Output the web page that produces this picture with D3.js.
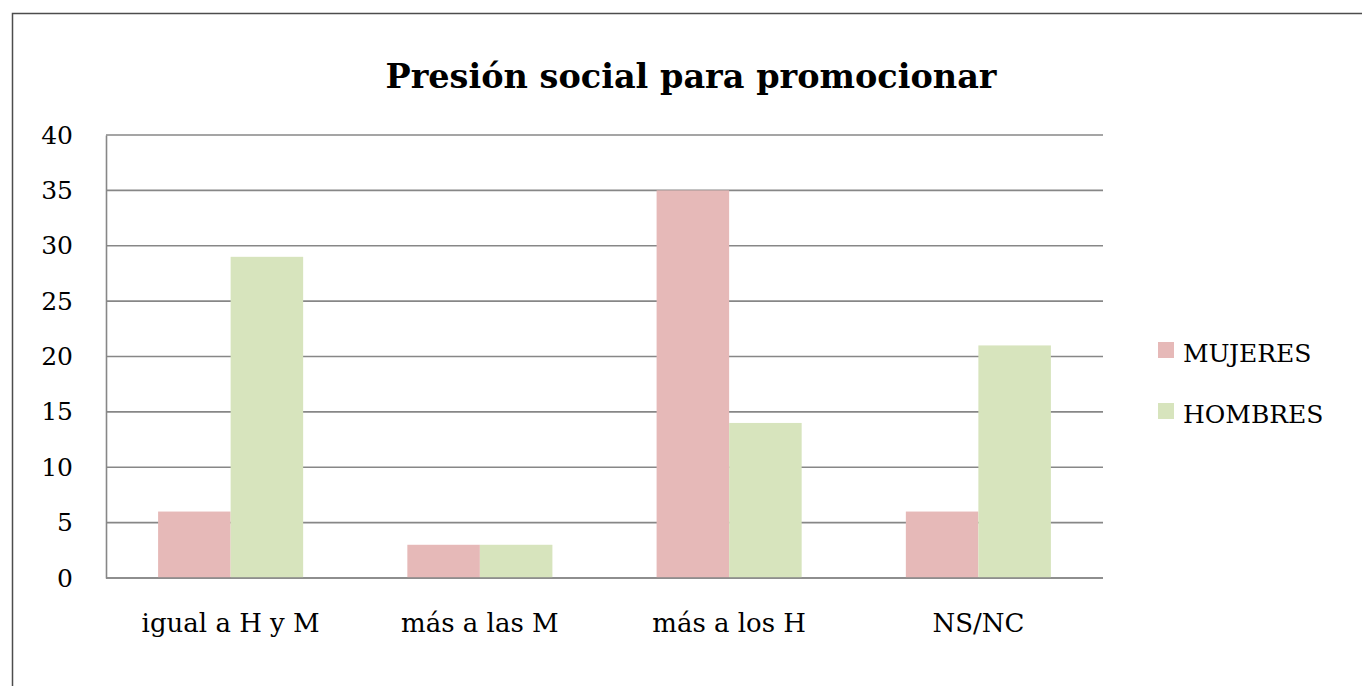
<!DOCTYPE html>
<html>
<head>
<meta charset="utf-8">
<script src="https://cdn.jsdelivr.net/npm/d3@7"></script>
<style>
  body { margin: 0; background: #fff; }
  svg text { font-family: "DejaVu Serif", "Liberation Serif", serif; fill: #000; }
</style>
</head>
<body>
<svg width="1362" height="686"></svg>
<script>
var categories = ["igual a H y M", "más a las M", "más a los H", "NS/NC"];
var series = ["MUJERES", "HOMBRES"];
var mujeres = [6, 3, 35, 6];
var hombres = [29, 3, 14, 21];
var yTicks = [0, 5, 10, 15, 20, 25, 30, 35, 40];
var colors = ["#e6b9b8", "#d7e4bd"];

var svg = d3.select("svg"),
    width = +svg.attr("width"),
    height = +svg.attr("height");

var margin = {left: 106, right: 259, top: 135, bottom: 108};

var rows = categories.map(function(c, i) {
  return {cat: c, values: [mujeres[i], hombres[i]]};
});

// frame of the picture (only top and left edges show)
svg.append("path")
    .attr("d", "M12.5," + height + "V13.5H" + width)
    .attr("fill", "none")
    .attr("stroke", "#4d4d4d")
    .attr("stroke-width", 1.5);

var x = d3.scaleBand()
    .domain(categories)
    .range([margin.left, width - margin.right])
    .paddingInner(0.418)
    .paddingOuter(0.209);

var x1 = d3.scaleBand()
    .domain(series)
    .range([0, x.bandwidth()]);

var y = d3.scaleLinear()
    .domain([0, 40])
    .range([height - margin.bottom, margin.top]);

// gridlines
svg.append("g")
    .attr("class", "grid")
    .selectAll("line")
    .data(yTicks)
    .enter().append("line")
      .attr("x1", margin.left)
      .attr("x2", width - margin.right)
      .attr("y1", function(d) { return y(d); })
      .attr("y2", function(d) { return y(d); })
      .attr("stroke", "#878787")
      .attr("stroke-width", 1.6);

// bars
var group = svg.append("g").selectAll("g")
    .data(rows)
    .enter().append("g")
      .attr("transform", function(d) { return "translate(" + x(d.cat) + ",0)"; });

group.selectAll("rect")
    .data(function(d) { return d.values.map(function(v, i) { return {key: series[i], value: v, i: i}; }); })
    .enter().append("rect")
      .attr("x", function(d) { return x1(d.key); })
      .attr("width", x1.bandwidth())
      .attr("y", function(d) { return y(d.value); })
      .attr("height", function(d) { return y(0) - y(d.value); })
      .attr("fill", function(d) { return colors[d.i]; });

// y axis
var yAxis = svg.append("g")
    .attr("transform", "translate(" + margin.left + ",0)")
    .call(d3.axisLeft(y).tickValues(yTicks).tickSize(0).tickPadding(33));
yAxis.select(".domain").attr("stroke", "#878787").attr("stroke-width", 1.6);
yAxis.selectAll("text").attr("font-size", 25).style("font-family", "DejaVu Serif");

// x axis
var xAxis = svg.append("g")
    .attr("transform", "translate(0," + y(0) + ")")
    .call(d3.axisBottom(x).tickSize(0).tickPadding(36));
xAxis.select(".domain").attr("stroke", "#878787").attr("stroke-width", 1.6)
    .attr("d", "M" + margin.left + ",0H" + (width - margin.right));
xAxis.selectAll("text").attr("font-size", 26).style("font-family", "DejaVu Serif");

// title
svg.append("text")
    .attr("x", 691)
    .attr("y", 88)
    .attr("text-anchor", "middle")
    .attr("font-size", 33.5)
    .attr("font-weight", "bold")
    .text("Presión social para promocionar");

// legend
var legend = svg.append("g").selectAll("g")
    .data(series)
    .enter().append("g")
      .attr("transform", function(d, i) { return "translate(1158," + (342 + i * 61) + ")"; });

legend.append("rect")
    .attr("width", 16)
    .attr("height", 16)
    .attr("fill", function(d, i) { return colors[i]; });

legend.append("text")
    .attr("x", 25)
    .attr("y", 20)
    .attr("font-size", 25)
    .text(function(d) { return d; });
</script>
</body>
</html>
